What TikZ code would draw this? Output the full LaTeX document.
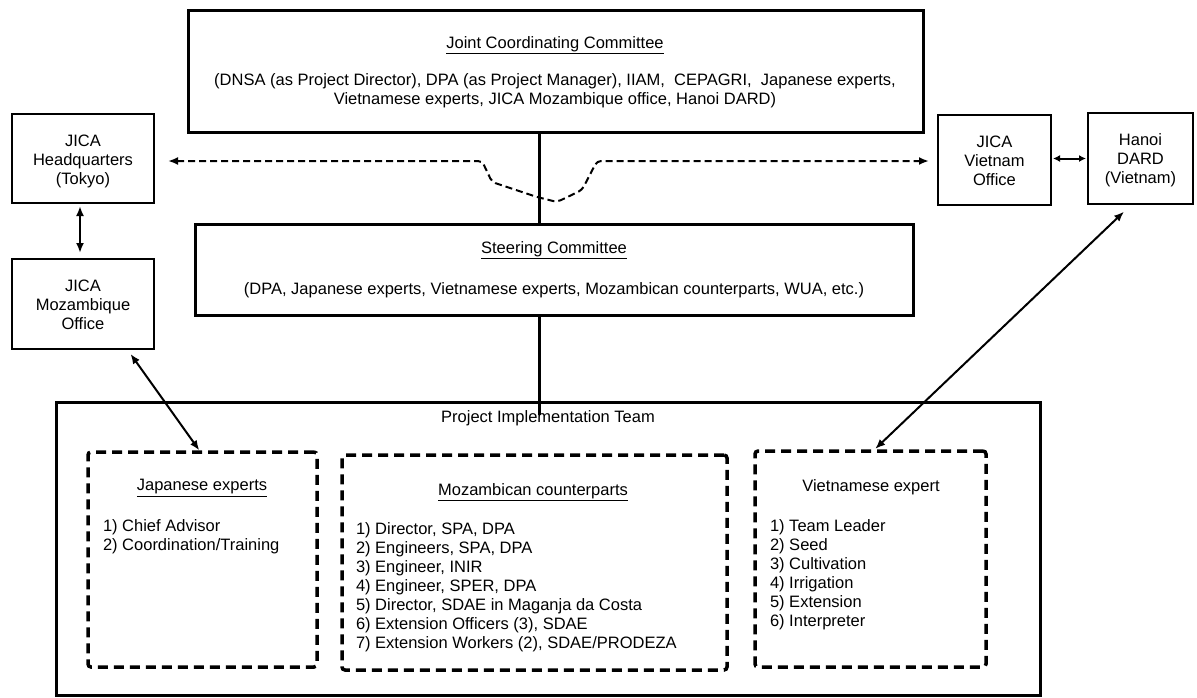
\documentclass[tikz,border=0pt]{standalone}
\usepackage{fontspec}
\setmainfont{Liberation Sans}
\usetikzlibrary{arrows.meta}
\pgfdeclarelayer{bg}
\pgfdeclarelayer{lines}
\pgfsetlayers{bg,lines,main}
\begin{document}
\begin{tikzpicture}[x=1pt,y=-1pt,
  box/.style={draw,fill=white,line width=2pt,inner sep=0pt,outer sep=0pt,rectangle},
  bigbox/.style={box,line width=3pt},
  dbox/.style={box,line width=3.5pt,dash pattern=on 10pt off 6pt,rounded corners=3pt},
  txt/.style={inner sep=0pt,outer sep=0pt,font=\fontsize{16.5}{19}\selectfont,align=center},
  ltxt/.style={txt,align=left,anchor=west},
  conn/.style={line width=2pt,{Latex[length=10pt,width=8pt]}-{Latex[length=10pt,width=8pt]}},
  dconn/.style={line width=2pt,dash pattern=on 7pt off 4pt,rounded corners=4pt,{Latex[length=10pt,width=8pt]}-{Latex[length=10pt,width=8pt]}},
  trunk/.style={line width=3pt},
]
\begin{pgfonlayer}{bg}
\fill[white] (0,0) rectangle (1197,697);
\end{pgfonlayer}
\useasboundingbox (0,0) rectangle (1197,697);

% boxes
\node[bigbox,minimum width=735pt,minimum height=122pt] (jcc) at (555.5,71) {};
\node[bigbox,minimum width=718pt,minimum height=91pt] (steer) at (554,269.5) {};
\node[box,minimum width=142pt,minimum height=89pt] (hq) at (83,158.5) {};
\node[box,minimum width=142pt,minimum height=90pt] (mozoff) at (83,304) {};
\node[box,minimum width=113pt,minimum height=90pt] (vnoff) at (994.5,160) {};
\node[box,minimum width=105pt,minimum height=91pt] (hanoi) at (1140.5,158.5) {};
\node[bigbox,fill=none,minimum width=984pt,minimum height=293pt] (pit) at (548,548.5) {};
\node[dbox,minimum width=229pt,minimum height=215pt] (jap) at (202.5,559.5) {};
\node[dbox,minimum width=385pt,minimum height=215pt] (moz) at (534.5,562.5) {};
\node[dbox,minimum width=231pt,minimum height=216pt] (viet) at (870.5,559) {};

% texts
\node[txt] (jcct) at (555,45) {\underline{Joint Coordinating Committee}};
\node[txt] (jccb) at (555,91) {(DNSA (as Project Director), DPA (as Project Manager), IIAM,\ \ CEPAGRI,\ \ Japanese experts,\\Vietnamese experts, JICA Mozambique office, Hanoi DARD)};
\node[txt] (steert) at (554,250) {\underline{Steering Committee}};
\node[txt] (steerb) at (554,290) {(DPA, Japanese experts, Vietnamese experts, Mozambican counterparts, WUA, etc.)};
\node[txt] (hqt) at (83,161) {JICA\\Headquarters\\(Tokyo)};
\node[txt] (mozofft) at (83,305) {JICA\\Mozambique\\Office};
\node[txt] (vnofft) at (994.5,161) {JICA\\Vietnam\\Office};
\node[txt] (hanoit) at (1140.5,160) {Hanoi\\DARD\\(Vietnam)};
\node[txt] (pitt) at (548,418) {Project Implementation Team};
\node[txt] (japt) at (202,488) {\underline{Japanese experts}};
\node[ltxt] (japl) at (103,536.5) {1) Chief Advisor\\2) Coordination/Training};
\node[txt] (mozt) at (533,492) {\underline{Mozambican counterparts}};
\node[ltxt] (mozl) at (356,587) {1) Director, SPA, DPA\\2) Engineers, SPA, DPA\\3) Engineer, INIR\\4) Engineer, SPER, DPA\\5) Director, SDAE in Maganja da Costa\\6) Extension Officers (3), SDAE\\7) Extension Workers (2), SDAE/PRODEZA};
\node[txt] (viett) at (871,487) {Vietnamese expert};
\node[ltxt] (vietl) at (770,574.5) {1) Team Leader\\2) Seed\\3) Cultivation\\4) Irrigation\\5) Extension\\6) Interpreter};

% trunk line (behind the committee boxes)
\coordinate (lx) at (539,0);
\begin{pgfonlayer}{lines}
\draw[trunk] (jcc.south -| lx) -- ([yshift=-13pt]pit.north -| lx);
\end{pgfonlayer}

% dashed connector
\coordinate (b1) at (482,161);
\coordinate (b2) at (492,182);
\coordinate (b3) at (537,197);
\coordinate (b4) at (557,202);
\coordinate (b5) at (582,190);
\coordinate (b6) at (597,161);
\draw[dconn,shorten <=14pt,shorten >=9pt] (b1 -| hq.east) -- (b1) -- (b2) -- (b3) -- (b4) -- (b5) -- (b6) -- (b6 -| vnoff.west);

% solid connectors
\draw[conn,shorten <=3pt,shorten >=6pt] ([xshift=-3pt]hq.south) -- ([xshift=-3pt]mozoff.north);
\draw[line width=2pt,{Latex[length=7pt,width=7pt]}-{Latex[length=7pt,width=7pt]},shorten <=2pt,shorten >=2pt] (vnoff.east |- hanoi.west) -- (hanoi.west);
\draw[conn,shorten <=6pt,shorten >=2pt] ([xshift=44pt]mozoff.south) -- ([xshift=-2pt]jap.north);
\draw[conn,shorten <=11pt,shorten >=3pt] ([xshift=-8.5pt]hanoi.south) -- ([xshift=2.5pt]viet.north);
\end{tikzpicture}
\end{document}
